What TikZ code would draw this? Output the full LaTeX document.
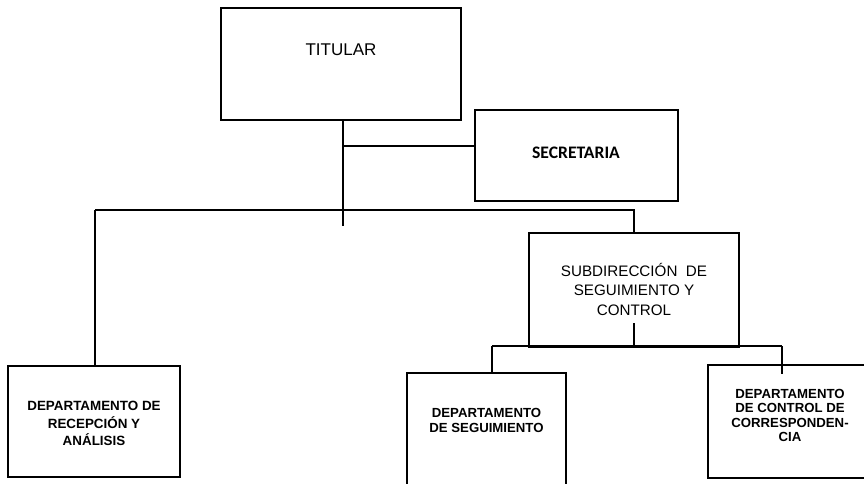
\documentclass[tikz,border=0pt]{standalone}
\usepackage{fontspec}
\setmainfont{Liberation Sans}
\newfontfamily\carl{Carlito}
\begin{document}
\begin{tikzpicture}[x=1pt,y=-1pt,
  box/.style={draw,line width=1.4pt,rectangle,inner sep=0pt,minimum width=#1},
  conn/.style={line width=1.3pt},
  lbl/.style={align=center,inner sep=0pt,anchor=center},
  bigtxt/.style={lbl,font=\fontsize{15.2}{19.5}\selectfont},
  boldtxt/.style={lbl,font=\bfseries\fontsize{13.4}{17.5}\selectfont},
  boldtxtb/.style={lbl,font=\bfseries\fontsize{13.2}{14.2}\selectfont}]
\useasboundingbox (0,0) rectangle (864,484);
% boxes
\node[box=240pt,minimum height=112pt] (tit) at (341,64) {};
\node[box=203pt,minimum height=91pt] (sec) at (576.5,155.5) {};
\node[box=210pt,minimum height=114pt] (sub) at (634,290) {};
\node[box=172pt,minimum height=111pt] (rec) at (94,421.5) {};
\node[box=159pt,minimum height=130pt] (seg) at (486.5,438) {};
\node[box=162pt,minimum height=113pt] (cor) at (789,421.5) {};
% labels
\node[lbl,font=\fontsize{17}{20}\selectfont] (titl) at (341,50) {TITULAR};
\node[lbl,font=\carl\bfseries\fontsize{17.6}{20}\selectfont] (secl) at (576,153) {SECRETARIA};
\node[bigtxt] (subl) at (634,289) {SUBDIRECCIÓN\ \ DE\\SEGUIMIENTO Y\\CONTROL};
\node[boldtxt] (recl) at (94,423.5) {DEPARTAMENTO DE\\RECEPCIÓN Y\\ANÁLISIS};
\node[boldtxtb] (segl) at (486.5,420.5) {DEPARTAMENTO\\DE SEGUIMIENTO};
\node[boldtxtb] (corl) at (790,415.5) {DEPARTAMENTO\\DE CONTROL DE\\CORRESPONDEN-\\CIA};
% connector points
\coordinate (t1) at (343,120);
\coordinate (tend) at (343,226);
\coordinate (tsec) at (343,146);
\coordinate (busL) at (95,210);
\coordinate (busR) at (634,210);
\coordinate (s1) at (634,323);
\coordinate (s2) at (634,347);
\coordinate (hL) at (492,346);
\coordinate (hR) at (782,346);
\coordinate (cEnd) at (782,374);
% connectors
\draw[conn] (t1) -- (tend);
\draw[conn] (tsec) -- (sec.west |- tsec);
\draw[conn] (busL) -- (busR) -- (sub.north);
\draw[conn] (busL) -- (busL |- rec.north);
\draw[conn] (s1) -- (s2);
\draw[conn] (hL) -- (hR);
\draw[conn] (hL) -- (hL |- seg.north);
\draw[conn] (hR) -- (cEnd);
\end{tikzpicture}
\end{document}
